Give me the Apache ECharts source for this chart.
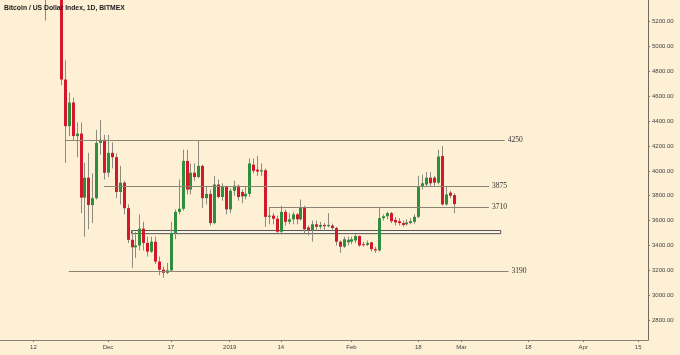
<!DOCTYPE html>
<html><head><meta charset="utf-8">
<script src="https://cdn.jsdelivr.net/npm/echarts@6/dist/echarts.min.js"></script>
<style>html,body{margin:0;padding:0;background:#fdf0d5}#c{width:680px;height:355px}</style>
</head><body><div id="c"></div>
<script>
// ---- data ----
const candleDates = [
'2018-11-14','2018-11-15','2018-11-16','2018-11-17','2018-11-18','2018-11-19','2018-11-20','2018-11-21','2018-11-22','2018-11-23',
'2018-11-24','2018-11-25','2018-11-26','2018-11-27','2018-11-28','2018-11-29','2018-11-30',
'2018-12-01','2018-12-02','2018-12-03','2018-12-04','2018-12-05','2018-12-06','2018-12-07','2018-12-08','2018-12-09','2018-12-10',
'2018-12-11','2018-12-12','2018-12-13','2018-12-14','2018-12-15','2018-12-16','2018-12-17','2018-12-18','2018-12-19','2018-12-20',
'2018-12-21','2018-12-22','2018-12-23','2018-12-24','2018-12-25','2018-12-26','2018-12-27','2018-12-28','2018-12-29','2018-12-30','2018-12-31',
'2019-01-01','2019-01-02','2019-01-03','2019-01-04','2019-01-05','2019-01-06','2019-01-07','2019-01-08','2019-01-09','2019-01-10',
'2019-01-11','2019-01-12','2019-01-13','2019-01-14','2019-01-15','2019-01-16','2019-01-17','2019-01-18','2019-01-19','2019-01-20',
'2019-01-21','2019-01-22','2019-01-23','2019-01-24','2019-01-25','2019-01-26','2019-01-27','2019-01-28','2019-01-29','2019-01-30','2019-01-31',
'2019-02-01','2019-02-02','2019-02-03','2019-02-04','2019-02-05','2019-02-06','2019-02-07','2019-02-08','2019-02-09','2019-02-10',
'2019-02-11','2019-02-12','2019-02-13','2019-02-14','2019-02-15','2019-02-16','2019-02-17','2019-02-18','2019-02-19','2019-02-20',
'2019-02-21','2019-02-22','2019-02-23','2019-02-24','2019-02-25','2019-02-26','2019-02-27'];
const openP = [
6350,5620,5560,5500,5520,5600,4735,4360,4550,4280,4300,3785,3945,3725,3780,4225,4250,
3985,4145,4110,3830,3905,3700,3445,3385,3400,3535,3420,3350,3430,3270,3205,3180,3200,3500,3670,3695,
4080,3850,3985,3950,4040,3780,3815,3580,3890,3790,3870,
3690,3840,3880,3830,3795,3815,4050,4010,3995,4005,3630,3640,3615,3510,3670,3590,3610,3650,3610,3705,
3545,3525,3570,3550,3565,3555,3560,3540,3430,3390,3425,
3430,3440,3475,3410,3405,3425,3370,3360,3620,3635,3660,3605,3595,3580,3570,3580,3590,3630,3875,3890,
3945,3945,3905,4120,3730,3825,3805];
const highP = [
6400,5700,5580,5540,5650,5620,4890,4630,4590,4390,4390,4065,4145,3980,4330,4410,4290,
4290,4230,4140,4040,3920,3730,3520,3510,3650,3590,3470,3470,3470,3310,3230,3260,3590,3690,3930,4170,
4170,4060,4060,4240,4050,3870,3850,3960,3930,3900,3880,
3860,3920,3890,3850,3870,4100,4100,4120,4060,4020,3710,3660,3640,3720,3690,3660,3670,3660,3770,3720,
3560,3600,3600,3590,3580,3660,3575,3550,3440,3470,3470,
3470,3490,3480,3430,3440,3430,3390,3710,3650,3670,3670,3630,3620,3600,3610,3620,3650,3960,3970,3990,
3990,3960,4170,4200,3870,3840,3820];
const lowP = [
5450,5210,5400,5420,5480,4690,4065,4280,4250,4110,3660,3470,3530,3580,3770,4130,3930,
3950,4020,3780,3730,3650,3420,3220,3300,3360,3360,3310,3340,3250,3160,3140,3170,3190,3450,3650,3680,
3810,3810,3920,3940,3700,3730,3560,3570,3780,3760,3650,
3660,3800,3760,3740,3770,3790,3980,3960,3960,3550,3570,3570,3490,3490,3560,3570,3570,3570,3600,3500,
3480,3430,3520,3530,3520,3545,3520,3400,3340,3380,3400,
3410,3420,3390,3390,3395,3350,3340,3350,3600,3610,3580,3560,3560,3550,3560,3570,3575,3620,3850,3870,
3870,3870,3890,3720,3720,3780,3660];
const closeP = [
5620,5560,5500,5520,5600,4735,4360,4550,4280,4300,3785,3945,3725,3780,4225,4250,3985,
4145,4110,3830,3905,3700,3445,3385,3400,3535,3420,3350,3430,3270,3205,3180,3200,3500,3670,3695,4080,
3850,3985,3950,4040,3780,3815,3580,3890,3790,3870,3690,
3840,3880,3790,3795,3815,4060,4000,3995,4005,3630,3640,3615,3510,3670,3590,3610,3650,3610,3705,3530,
3525,3570,3550,3565,3555,3565,3540,3430,3390,3450,3445,
3450,3475,3400,3405,3420,3370,3360,3620,3635,3660,3595,3585,3580,3565,3585,3595,3630,3875,3900,3945,
3900,3905,4115,3730,3810,3800,3732.84];
const lastPrice = 3732.84;

const levelValues = [4250, 3875, 3710, 3190];
const levelLabels = ['4250', '3875', '3710', '3190'];
const levelStart = ['2018-11-20', '2018-11-30', '2019-01-11', '2018-11-21'];
const levelEnd   = ['2019-03-12', '2019-03-08', '2019-03-08', '2019-03-13'];
const boxRange = [3495, 3520];
const boxDates = ['2018-12-07', '2019-03-11'];

const axisFirstDay = '2018-11-04';
const axisLastDay = '2019-04-17';
const xTickDates = ['2018-11-12','2018-12-01','2018-12-17','2019-01-01','2019-01-14','2019-02-01','2019-02-18','2019-03-01','2019-03-18','2019-04-01','2019-04-15'];
const xTickLabels = ['12','Dec','17','2019','14','Feb','18','Mar','18','Apr','15'];
const yTicks = [2800,3000,3200,3400,3600,3800,4000,4200,4400,4600,4800,5000,5200];

// ---- build ----
function iso(d){return d.toISOString().slice(0,10);}
const categories = [];
for (let d = new Date(axisFirstDay + 'T00:00:00Z'); iso(d) <= axisLastDay; d.setUTCDate(d.getUTCDate() + 1)) categories.push(iso(d));

const rows = candleDates.map((d, i) => [d, openP[i], closeP[i], lowP[i], highP[i]]);
const tickMap = {}; xTickDates.forEach((d, i) => tickMap[d] = xTickLabels[i]);
const isTick = (idx, val) => tickMap[val] !== undefined;

const RED = '#d3182b', GREEN = '#2f8e3d', WICK = '#8d8a80', LINE = '#8a8574';

const levelLines = levelValues.map((v, i) => [
  {coord: [levelStart[i], v], label: {formatter: levelLabels[i]}},
  {coord: [levelEnd[i], v]}
]);

function renderCandle(params, api) {
  const xi = api.value(0);
  const o = api.value(1), c = api.value(2), l = api.value(3), h = api.value(4);
  const pO = api.coord([xi, o]), pC = api.coord([xi, c]);
  const pL = api.coord([xi, l]), pH = api.coord([xi, h]);
  const cs = params.coordSys;
  const xc = Math.round(pO[0]);
  const top = Math.min(pO[1], pC[1]), bot = Math.max(pO[1], pC[1]);
  const box = {x: cs.x, y: cs.y, width: cs.width, height: cs.height};
  const body = echarts.graphic.clipRectByRect({x: xc - 1, y: top, width: 3, height: Math.max(bot - top, 1)}, box);
  const wy1 = Math.max(pH[1], cs.y), wy2 = Math.min(pL[1], cs.y + cs.height);
  const children = [];
  if (wy2 > wy1) children.push({type: 'line', shape: {x1: xc + 0.5, y1: wy1, x2: xc + 0.5, y2: wy2}, style: {stroke: WICK, lineWidth: 1}});
  if (body) children.push({type: 'rect', shape: body, style: {fill: c >= o ? GREEN : RED}});
  return {type: 'group', children};
}

const chart = echarts.init(document.getElementById('c'));
chart.setOption({
  backgroundColor: '#fdf0d5',
  animation: false,
  title: {
    text: 'Bitcoin / US Dollar Index, 1D, BITMEX',
    left: 4, top: 5, padding: 0,
    textStyle: {fontSize: 6.8, fontWeight: 'bold', color: '#222', fontFamily: 'Liberation Sans'}
  },
  grid: {left: 0, right: 32, top: 0, bottom: 15},
  xAxis: {
    type: 'category', data: categories, boundaryGap: true,
    axisLine: {lineStyle: {color: '#8a877a'}},
    axisTick: {show: true, interval: isTick, alignWithLabel: true, length: 2, lineStyle: {color: '#777'}},
    axisLabel: {interval: isTick, formatter: v => tickMap[v] || '', fontSize: 6, color: '#444', margin: 4, fontFamily: 'Liberation Sans'},
    splitLine: {show: false}
  },
  yAxis: {
    type: 'value', position: 'right', min: 2639, max: 5375, scale: true,
    axisLine: {show: true, lineStyle: {color: '#6f6c60'}},
    axisTick: {show: true, customValues: yTicks, length: 2, lineStyle: {color: '#777'}},
    axisLabel: {customValues: yTicks, formatter: v => v.toFixed(2), fontSize: 6, color: '#444', margin: 4, fontFamily: 'Liberation Sans'},
    splitLine: {show: false}
  },
  series: [
    {
      type: 'custom', name: 'BTCUSD', data: rows,
      encode: {x: 0, y: [1, 2, 3, 4]},
      dimensions: ['date', 'open', 'close', 'low', 'high'],
      renderItem: renderCandle,
      markLine: {
        silent: true, symbol: ['none', 'none'],
        lineStyle: {color: LINE, width: 1, type: 'solid'},
        label: {show: true, position: 'end', distance: 3, fontSize: 7.5, color: '#333', fontFamily: 'Liberation Serif'},
        data: levelLines.concat([{
          yAxis: lastPrice,
          lineStyle: {opacity: 0},
          label: {position: 'end', distance: 0, formatter: String(lastPrice), fontSize: 6, color: '#fff',
                  backgroundColor: RED, padding: [1, 5, 1, 4], fontFamily: 'Liberation Sans'}
        }])
      },
      markArea: {
        silent: true,
        itemStyle: {color: '#fbf6ea', borderColor: '#55534a', borderWidth: 1},
        data: [[{coord: [boxDates[0], boxRange[1]]}, {coord: [boxDates[1], boxRange[0]]}]]
      },
      z: 2
    }
  ]
});
</script></body></html>
